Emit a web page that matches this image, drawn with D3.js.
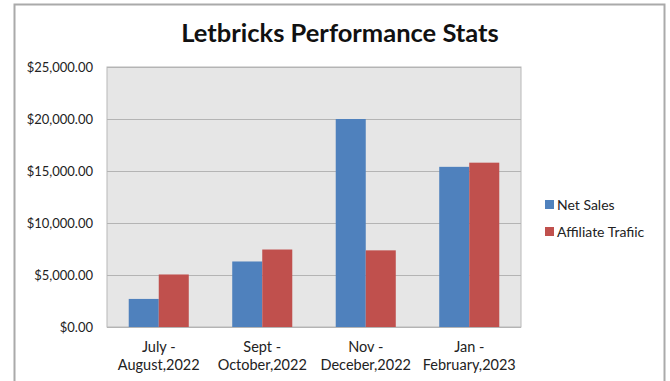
<!DOCTYPE html>
<html><head><meta charset="utf-8">
<script src="https://cdn.jsdelivr.net/npm/d3@7"></script>
<style>body{margin:0;background:#fff;}svg{display:block;}</style>
</head><body>
<svg id="c" width="670" height="381"></svg>
<script>
const categories = [["July -","August,2022"],["Sept -","October,2022"],["Nov -","Deceber,2022"],["Jan -","February,2023"]];
const seriesNames = ["Net Sales","Affiliate Trafiic"];
const netSales = [2700, 6300, 20000, 15400];
const affiliateTraffic = [5050, 7450, 7370, 15800];
const yTicks = [0,5000,10000,15000,20000,25000];
const colors = ["#4f81bd","#c0504d"];
const font = "Lato, 'Open Sans', sans-serif";

const svg = d3.select("#c");
svg.append("rect").attr("x",14.5).attr("y",4.5).attr("width",650).attr("height",390)
  .attr("fill","#fff").attr("stroke","#aaa").attr("stroke-width",2);

const L=107,R=521,T=67,B=327;
const x0 = d3.scaleBand().domain(d3.range(categories.length)).range([L,R]).paddingInner(0.42).paddingOuter(0.21);
const x1 = d3.scaleBand().domain([0,1]).range([0,x0.bandwidth()]);
const y = d3.scaleLinear().domain([0,25000]).range([B,T]);

svg.append("rect").attr("x",L).attr("y",T).attr("width",R-L).attr("height",B-T)
  .attr("fill","#e6e6e6").attr("stroke","#b8b8b8");
svg.append("g").selectAll("line").data(yTicks).join("line")
  .attr("x1",L).attr("x2",R).attr("y1",d=>y(d)+0.5).attr("y2",d=>y(d)+0.5)
  .attr("stroke","#b4b4b4").attr("stroke-width",1.2);

const fmt = d => "$" + d3.format(",.2f")(d);
const yAxis = d3.axisLeft(y).tickValues(yTicks).tickFormat(fmt).tickSize(0).tickPadding(14);
const ga = svg.append("g").attr("transform",`translate(${L},0)`).call(yAxis);
ga.select(".domain").remove();
ga.selectAll("text").attr("font-family",font).attr("font-size",13).attr("fill","#222");

const data = [netSales, affiliateTraffic];
data.forEach((vals,si)=>{
  svg.append("g").selectAll("rect").data(vals).join("rect")
    .attr("x",(d,i)=>x0(i)+x1(si)).attr("width",x1.bandwidth())
    .attr("y",d=>y(d)).attr("height",d=>B-y(d))
    .attr("fill",colors[si]);
});

const xl = svg.append("g");
categories.forEach((c,i)=>{
  const cx = x0(i)+x0.bandwidth()/2;
  const t = xl.append("text").attr("text-anchor","middle")
    .attr("font-family",font).attr("font-size",14.5).attr("fill","#222");
  t.append("tspan").attr("x",cx).attr("y",352).text(c[0]);
  t.append("tspan").attr("x",cx).attr("y",370).text(c[1]);
});

svg.append("text").attr("x",340).attr("y",42).attr("text-anchor","middle")
  .attr("font-family",font).attr("font-weight","bold").attr("font-size",25.5).attr("fill","#111")
  .text("Letbricks Performance Stats");

const lg = svg.append("g").selectAll("g").data(seriesNames).join("g")
  .attr("transform",(d,i)=>`translate(545,${200+i*27})`);
lg.append("rect").attr("width",9).attr("height",9).attr("fill",(d,i)=>colors[i]);
lg.append("text").attr("x",12).attr("y",10).attr("font-family",font).attr("font-size",14).attr("fill","#222").text(d=>d);
</script>
</body></html>
